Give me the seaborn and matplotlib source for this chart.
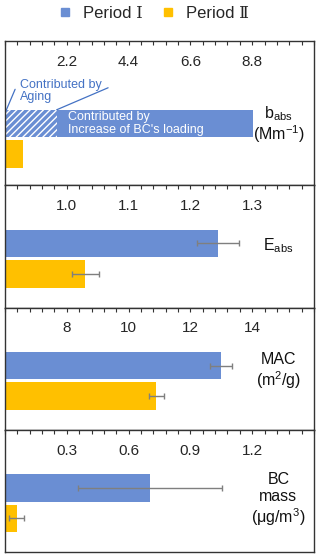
import numpy as np
import pandas as pd
import matplotlib
matplotlib.use('Agg')
import matplotlib.pyplot as plt
import seaborn as sns
from matplotlib.ticker import MultipleLocator, FixedLocator
from matplotlib.lines import Line2D

sns.set_style('white')
plt.rcParams['font.family'] = ['Liberation Sans', 'Noto Sans CJK SC', 'DejaVu Sans']
plt.rcParams['mathtext.fontset'] = 'custom'
plt.rcParams['mathtext.rm'] = 'Liberation Sans'
plt.rcParams['hatch.linewidth'] = 1.0

periods = ['Period Ⅰ', 'Period Ⅱ']
blue = '#6A8ED3'
yellow = '#FFC000'
err_col = '#7F7F7F'

# values
babs = [8.82, 0.65]
babs_aging = 1.84
eabs = [1.245, 1.030]
eabs_err = [0.034, 0.022]
mac = [13.0, 10.9]
mac_err = [0.36, 0.24]
bc = [0.705, 0.057]
bc_err = [0.35, 0.037]

panels = [
    dict(vals=babs, err=None, xlim=(0, 11), ticks=[2.2, 4.4, 6.6, 8.8], minor=0.44,
         fmt='{:.1f}', label='$\\mathregular{b_{abs}}$\n$\\mathregular{(Mm^{-1})}$', ly=0.42, ls=1.0),
    dict(vals=eabs, err=eabs_err, xlim=(0.9, 1.4), ticks=[1.0, 1.1, 1.2, 1.3], minor=0.02,
         fmt='{:.1f}', label='$\\mathregular{E_{abs}}$', ly=0.51, ls=1.15),
    dict(vals=mac, err=mac_err, xlim=(6, 16), ticks=[8, 10, 12, 14], minor=0.4,
         fmt='{:.0f}', label='MAC\n$\\mathregular{(m^2/g)}$', ly=0.475, ls=1.15),
    dict(vals=bc, err=bc_err, xlim=(0, 1.5), ticks=[0.3, 0.6, 0.9, 1.2], minor=0.06,
         fmt='{:.1f}', label='BC\nmass\n$\\mathregular{(\\mu g/m^3)}$', ly=0.425, ls=1.15),
]

fig = plt.figure(figsize=(3.2, 5.56), dpi=100)
gs = fig.add_gridspec(4, 1, height_ratios=[144, 122, 122, 122], hspace=0,
                      left=5/320, right=314/320, top=1-41/556, bottom=1-552/556)

for i, p in enumerate(panels):
    ax = fig.add_subplot(gs[i])
    df = pd.DataFrame({'period': periods, 'value': p['vals']})
    sns.barplot(data=df, x='value', y='period', hue='period',
                palette=[blue, yellow], orient='h', width=0.9,
                legend=False, ax=ax, saturation=1)
    for b in ax.patches:
        b.set_edgecolor('none')
    if p['err'] is not None:
        ax.errorbar(p['vals'], [0, 1], xerr=p['err'], fmt='none',
                    ecolor=err_col, elinewidth=1, capsize=2.3, capthick=1)
    ax.set_xlim(*p['xlim'])
    if i == 0:
        ax.set_ylim(2.02, -2.7)
    else:
        ax.set_ylim(2.1, -1.9)
    ax.xaxis.set_major_locator(FixedLocator(p['ticks']))
    ax.set_xticklabels([p['fmt'].format(t) for t in p['ticks']])
    ax.xaxis.set_minor_locator(MultipleLocator(p['minor']))
    ax.tick_params(axis='x', which='both', top=True, bottom=False, labeltop=True,
                   labelbottom=False, direction='in', length=3, width=0.8,
                   color='#333333', pad=-20, labelsize=11)
    ax.set_yticks([])
    ax.set_xlabel('')
    ax.set_ylabel('')
    for s in ax.spines.values():
        s.set_color('#333333')
        s.set_linewidth(1.0)
    ax.text(0.885, p['ly'], p['label'], transform=ax.transAxes, ha='center',
            va='center', fontsize=11.5, linespacing=p['ls'], color='#111111')

    if i == 0:
        # aging part of period I bar
        ax.barh(0, babs_aging, height=0.9, color=blue, hatch='/////',
                edgecolor='white', linewidth=0)
        ax.plot([0.05, 0.36], [-0.45, -1.12], color='#4472C4', lw=0.9)
        ax.plot([babs_aging, 3.67], [-0.45, -1.17], color='#4472C4', lw=0.9)
        ax.text(0.55, -1.08, 'Contributed by\nAging', color='#4472C4', fontsize=9,
                va='center', ha='left', linespacing=1.0)
        ax.text(2.24, 0, "Contributed by\nIncrease of BC's loading", color='white',
                fontsize=9, va='center', ha='left', linespacing=1.05)

handles = [Line2D([], [], marker='s', ls='none', color=c, markersize=6) for c in [blue, yellow]]
leg = fig.legend(handles, periods, loc='center', bbox_to_anchor=(0.478, 1-13/556), ncol=2,
                 frameon=False, fontsize=12, handletextpad=0.6, columnspacing=1.0,
                 handlelength=1.0)
for t in leg.get_texts():
    t.set_family(['Liberation Sans', 'DejaVu Serif', 'Noto Sans CJK SC'])

fig.savefig('out.png', dpi=100)
